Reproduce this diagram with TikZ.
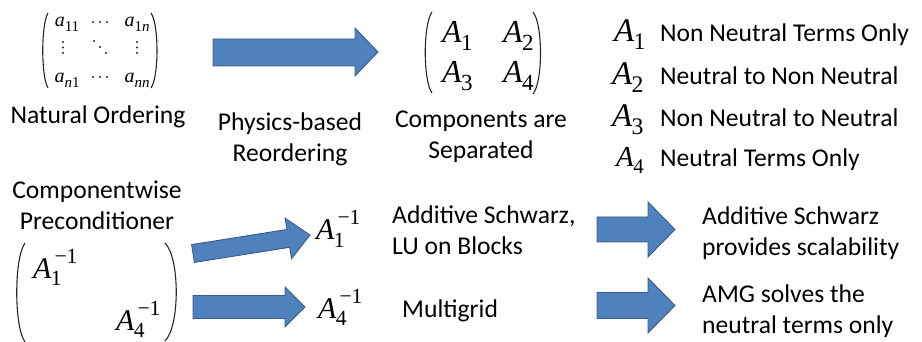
\documentclass[tikz,border=0pt]{standalone}
\usepackage{fontspec}
\setmainfont{Carlito}
\newfontfamily\tnr{Liberation Serif}
\newfontfamily\tnri{Liberation Serif Italic}
\usepackage{graphicx}
\definecolor{arrowfill}{HTML}{4F81BD}
\definecolor{arrowline}{HTML}{385D8A}
\newcommand\Asub[1]{{\tnri A}\kern-0.02em\raisebox{-0.24em}{\scalebox{0.72}{#1}}}
\newcommand\Ainv[1]{{\tnri A}\kern-0.02em\rlap{\kern0.12em\raisebox{0.5em}{\scalebox{0.72}{−1}}}\raisebox{-0.24em}{\scalebox{0.72}{#1}}}
\newcommand\asub[1]{{\tnri a}\raisebox{-0.22em}{\scalebox{0.75}{#1}}}
\newcommand\myLP[4]{\draw[parenc] (#1,#2) .. controls ({#1-#4},{#2+0.15*(#3-#2)}) and ({#1-#4},{#3-0.15*(#3-#2)}) .. (#1,#3);}
\begin{document}
\begin{tikzpicture}[x=1pt,y=-1pt,
  txt/.style={font=\fontsize{25.6}{31}\selectfont, inner sep=0pt},
  legA/.style={font=\tnr\fontsize{33}{33}\selectfont, inner sep=0pt, anchor=base west},
  compA/.style={font=\tnr\fontsize{32}{32}\selectfont, inner sep=0pt, anchor=base west},
  invA/.style={font=\tnr\fontsize{30}{30}\selectfont, inner sep=0pt, anchor=base west},
  smallA/.style={font=\tnr\fontsize{20}{20}\selectfont, inner sep=0pt, anchor=base},
  barrow/.style={fill=arrowfill, draw=arrowline, line width=0.9pt, line join=miter},
  parenc/.style={draw=black!85, line width=1.1pt},
  dotc/.style={fill=black!85}]
\useasboundingbox (0,0) rectangle (922,342);

% ---- natural ordering matrix
\myLP{48}{13}{88}{7}
\myLP{151}{13}{88}{-8}
\node[smallA] (a11) at (67,27) {\asub{11}};
\node[smallA] (a1n) at (137,27) {\asub{1{\tnri n}}};
\node[smallA] (an1) at (67,83) {\asub{{\tnri n}1}};
\node[smallA] (ann) at (137,83) {\asub{{\tnri nn}}};
\foreach \x in {93,100,107} {\fill[dotc] (\x,22) circle (1.2); \fill[dotc] (\x,77) circle (1.2);}
\foreach \y in {42,47.5,53} {\fill[dotc] (63,\y) circle (1.2); \fill[dotc] (137,\y) circle (1.2);}
\foreach \x/\y in {94/41,100/47,106/53} {\fill[dotc] (\x,\y) circle (1.2);}
\node[txt, anchor=base] (natural) at (98,124) {Natural Ordering};

% ---- arrow 1
\draw[barrow] (213,39) -- (355,39) -- (355,28) -- (378,52) -- (355,76) -- (355,66) -- (213,66) -- cycle;
\node[txt, align=center] (physics) at (290,139) {Physics-based\\Reordering};

% ---- components matrix
\myLP{432}{12}{93}{9}
\myLP{533}{12}{94}{-10}
\node[compA] (c1) at (442,43) {\Asub{1}};
\node[compA] (c2) at (503,43) {\Asub{2}};
\node[compA] (c3) at (442,83) {\Asub{3}};
\node[compA] (c4) at (503,83) {\Asub{4}};
\node[txt, align=center] (comps) at (481,136.5) {Components are\\Separated};

% ---- legend
\node[legA] (l1) at (614,42) {\Asub{1}};
\node[legA] (l2) at (612,85) {\Asub{2}};
\node[legA] (l3) at (612,127) {\Asub{3}};
\node[legA, font=\tnr\fontsize{29}{29}\selectfont] (l4) at (616,167) {\Asub{4}};
\node[txt, anchor=base west] (t1) at (660,42) {Non Neutral Terms Only};
\node[txt, anchor=base west] (t2) at (660,85) {Neutral to Non Neutral};
\node[txt, anchor=base west] (t3) at (660,127) {Non Neutral to Neutral};
\node[txt, anchor=base west] (t4) at (660,167) {Neutral Terms Only};

% ---- componentwise preconditioner
\node[txt, align=center] (cwp) at (97,205) {Componentwise\\Preconditioner};
\myLP{25}{243}{342}{11}
\myLP{165}{243}{341}{-15}
\node[invA] (p1) at (33,278) {\Ainv{1}};
\node[invA] (p4) at (116,330) {\Ainv{4}};

% ---- arrows 2,3
\draw[barrow] (191.6,244.6) -- (286.9,229.5) -- (285.1,218.2) -- (310,235) -- (291.5,258.7) -- (289.7,247.3) -- (194.4,262.4) -- cycle;
\draw[barrow] (193,295.5) -- (285,295.5) -- (285,287) -- (305,307) -- (285,327) -- (285,318.5) -- (193,318.5) -- cycle;

\node[invA] (i1) at (316,240) {\Ainv{1}};
\node[invA] (i4) at (318,318) {\Ainv{4}};
\node[txt, align=left, anchor=west] (as) at (392,230) {Additive Schwarz,\\LU on Blocks};
\node[txt, anchor=base west] (mg) at (402,317) {Multigrid};

% ---- arrows 4,5
\draw[barrow] (597,217) -- (648,217) -- (648,202) -- (675,229.5) -- (648,257) -- (648,242) -- (597,242) -- cycle;
\draw[barrow] (597,292.5) -- (648,292.5) -- (648,278) -- (675,305.5) -- (648,333) -- (648,318.5) -- (597,318.5) -- cycle;
\node[txt, align=left, anchor=west] (r1) at (702,233) {Additive Schwarz\\provides scalability};
\node[txt, align=left, anchor=west] (r2) at (702,311) {AMG solves the\\neutral terms only};
\end{tikzpicture}
\end{document}
